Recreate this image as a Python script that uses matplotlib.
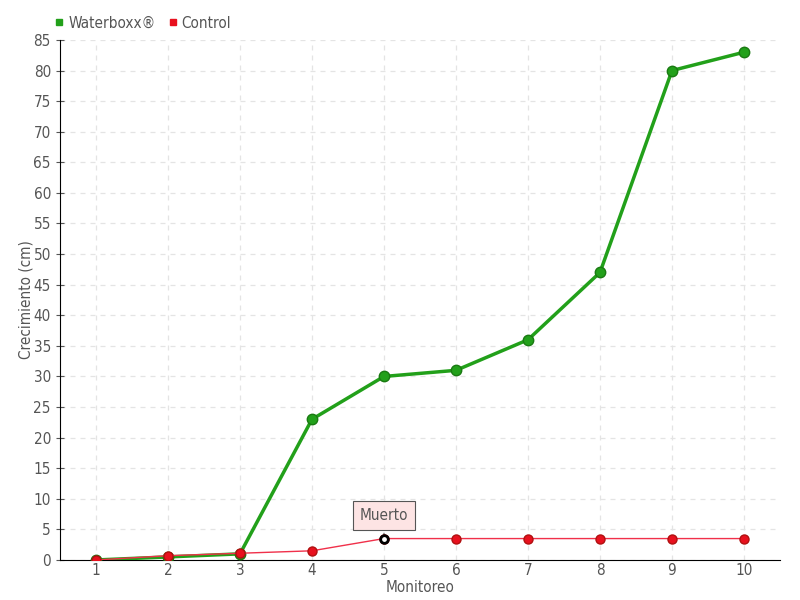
import matplotlib
matplotlib.use("Agg")
import matplotlib.pyplot as plt

monitoreo = [1, 2, 3, 4, 5, 6, 7, 8, 9, 10]
waterboxx = [0, 0.5, 1, 23, 30, 31, 36, 47, 80, 83]
control = [0, 0.7, 1.1, 1.5, 3.5, 3.5, 3.5, 3.5, 3.5, 3.5]

plt.rcParams['font.family'] = ['DejaVu Sans']
plt.rcParams['font.stretch'] = 'condensed'
gris = '#555555'

fig = plt.figure(figsize=(8, 6), dpi=100)
ax = fig.add_axes([0.075, 0.0667, 0.9, 0.8667])

ax.plot(monitoreo, waterboxx, color='#22a01a', lw=2.5, marker='o', ms=7.5,
        mfc='#22a01a', mec='#1a7a12', mew=1, zorder=3, label='Waterboxx®')
ax.plot(monitoreo, control, color='#f0304a', lw=1, marker='o', ms=6.5,
        mfc='#e8101e', mec='#b01010', mew=1, zorder=4, label='Control')
# punto muerto
ax.plot([monitoreo[4]], [control[4]], marker='o', ms=5.5, mfc='white',
        mec='black', mew=2, zorder=5)
ax.annotate('Muerto', xy=(monitoreo[4], control[4]), xytext=(0, 16.5),
            textcoords='offset points', ha='center', va='center',
            fontsize=11, color=gris,
            bbox=dict(boxstyle='square,pad=0.45', fc='#fde4e4', ec='#555555', lw=0.8),
            arrowprops=dict(arrowstyle='-', color='#555555', lw=0.8))

ax.set_xlim(0.5, 10.5)
ax.set_ylim(0, 85)
ax.set_xticks(monitoreo)
ax.set_yticks(range(0, 86, 5))
ax.tick_params(axis='both', colors=gris, labelsize=11, length=4)
ax.tick_params(axis='y', direction='inout', length=6)
ax.tick_params(axis='x', length=0, pad=2)
for s in ['top', 'right']:
    ax.spines[s].set_visible(False)
ax.spines['left'].set_color('black')
ax.spines['bottom'].set_color('black')
ax.grid(True, color='#e4e4e4', linestyle=(0, (4, 4)), lw=0.9)
ax.set_axisbelow(True)

ax.set_xlabel('Monitoreo', color=gris, fontsize=11)
ax.set_ylabel('Crecimiento (cm)', color=gris, fontsize=11)
ax.yaxis.set_label_coords(-0.037, 0.5)
ax.xaxis.set_label_coords(0.5, -0.038)

ax.legend(loc='lower left', bbox_to_anchor=(-0.02, 1.0), ncol=2, frameon=False,
          handlelength=0.6, handletextpad=0.3, columnspacing=0.8, fontsize=11,
          labelcolor=gris, borderaxespad=0.2,
          handles=[plt.Line2D([], [], ls='', marker='s', ms=5, color='#22a01a'),
                   plt.Line2D([], [], ls='', marker='s', ms=5, color='#e8101e')],
          labels=['Waterboxx®', 'Control'])

plt.savefig('out.png', dpi=100)
